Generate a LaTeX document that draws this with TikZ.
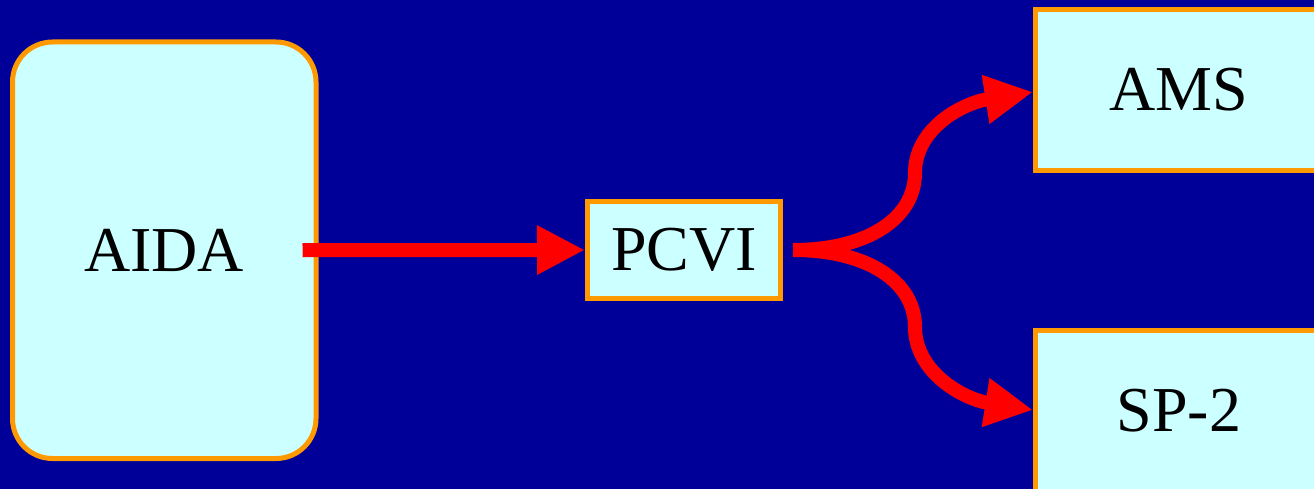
\documentclass[tikz,border=0pt]{standalone}
\usepackage{fontspec}
\setmainfont{Liberation Serif}
\usetikzlibrary{arrows.meta}
\definecolor{bgblue}{HTML}{000099}
\definecolor{boxfill}{HTML}{CCFFFF}
\definecolor{boxline}{HTML}{FF9900}
\definecolor{flowred}{HTML}{FF0000}
\tikzset{
  unitbox/.style={draw=boxline, fill=boxfill, line width=5pt, inner sep=0pt,
    font=\fontsize{64}{70}\selectfont, text=black},
  flow/.style={draw=flowred, line width=14pt,
    -{Triangle[length=48pt,width=46pt]}},
}
\begin{document}
\begin{tikzpicture}[x=1pt,y=-1pt]
  \fill[bgblue] (0,0) rectangle (1314,489);
  \useasboundingbox (0,0) rectangle (1314,489);
  \clip (0,0) rectangle (1314,489);

  % instruments
  \node[unitbox, rounded corners=40pt, minimum width=303.5pt, minimum height=416.5pt]
    (AIDA) at (164.25,250.25) {AIDA};
  \node[unitbox, minimum width=193pt, minimum height=97pt]
    (PCVI) at (684,250) {PCVI};
  \node[unitbox, minimum width=287pt, minimum height=161pt]
    (AMS) at (1179,90) {AMS};
  \node[unitbox, minimum width=287pt, minimum height=161pt]
    (SP2) at (1179,411) {SP-2};

  % sample flow
  \coordinate (src) at ([xshift=-16pt]AIDA.east);
  \coordinate (fork) at ([xshift=10pt]PCVI.east);
  \coordinate (upmid) at (915,173);
  \coordinate (lowmid) at (915,327);

  \draw[flow] (src) -- (PCVI.west);
  \draw[flow] (fork) .. controls +(75,0) and +(0,45) .. (upmid)
                     .. controls +(0,-45) and +(-70,11) .. ([yshift=-2pt]AMS.west);
  \draw[flow] (fork) .. controls +(75,0) and +(0,-45) .. (lowmid)
                     .. controls +(0,45) and +(-70,-11) .. ([yshift=1pt]SP2.west);
\end{tikzpicture}
\end{document}
